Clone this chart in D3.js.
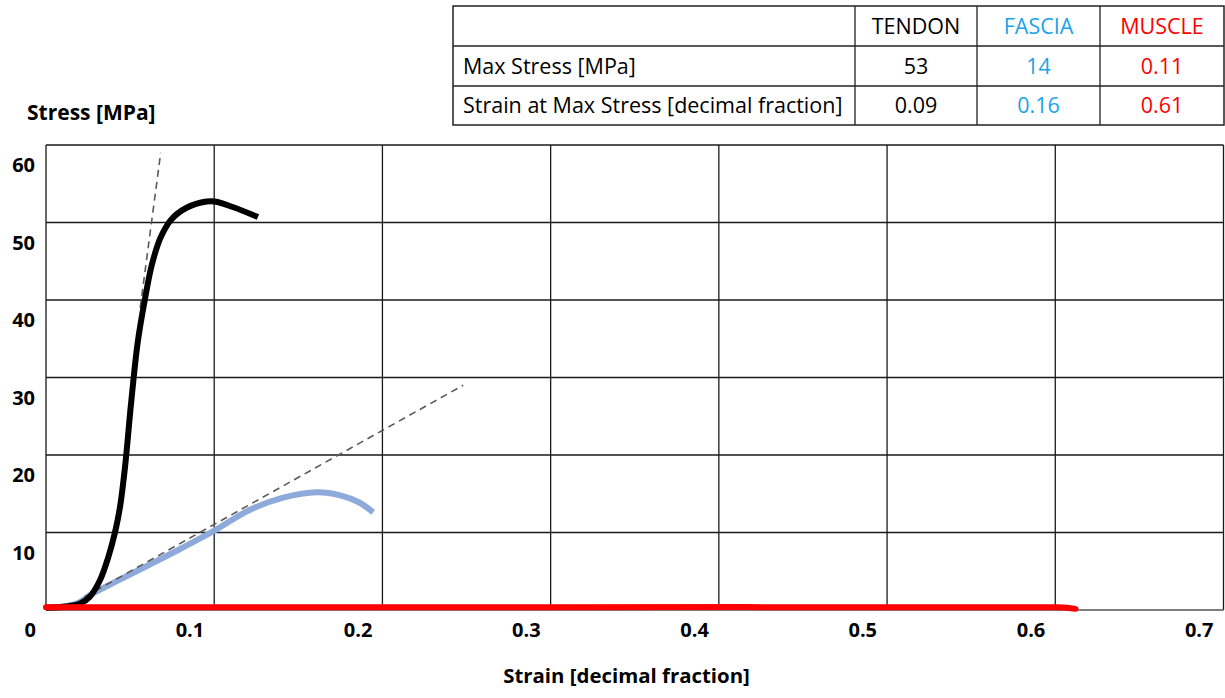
<!DOCTYPE html>
<html><head><meta charset="utf-8">
<script src="https://cdn.jsdelivr.net/npm/d3@7"></script>
<style>body{margin:0;background:#fff}svg{display:block}</style>
</head><body>
<svg id="c" width="1225" height="698"></svg>
<script>
// ---- data ----
const strainTicks = [0, 0.1, 0.2, 0.3, 0.4, 0.5, 0.6, 0.7];
const stressTicks = [10, 20, 30, 40, 50, 60];
const stressGrid = [0, 10, 20, 30, 40, 50, 60];
const tendon = [[0.000,0.3],[0.012,0.45],[0.020,0.8],[0.026,1.7],[0.032,3.8],[0.037,6.8],[0.041,10.0],[0.044,13.3],[0.047,18.5],[0.0505,26.5],[0.0545,34.5],[0.0588,40.1],[0.063,44.6],[0.068,48.0],[0.0745,50.4],[0.0836,51.9],[0.0955,52.7],[0.1004,52.7],[0.111,52.0],[0.126,50.7]];
const fascia = [[0.000,0.3],[0.012,0.5],[0.020,1.0],[0.026,1.9],[0.040,3.5],[0.062,5.9],[0.080,7.9],[0.099,10.1],[0.121,12.9],[0.141,14.5],[0.161,15.2],[0.175,14.8],[0.186,13.9],[0.1945,12.6]];
const muscle = [[0.000,0.35],[0.300,0.35],[0.600,0.35],[0.607,0.3],[0.612,0.15]];
const tendonTangent = [[0.0560,39.0],[0.0682,59.0]];
const fasciaTangent = [[0.023,1.7],[0.248,29.0]];
const tableHeader = ["", "TENDON", "FASCIA", "MUSCLE"];
const tableRowLabels = ["Max Stress [MPa]", "Strain at Max Stress [decimal fraction]"];
const tableTendon = ["53", "0.09"];
const tableFascia = ["14", "0.16"];
const tableMuscle = ["0.11", "0.61"];
const tableColors = ["#000000", "#000000", "#1aa3e8", "#ff0000"];

// ---- layout ----
const svg = d3.select("#c");
const font = "'Open Sans', 'Noto Sans', sans-serif";
const x = d3.scaleLinear().domain([0, 0.7]).range([46, 1223.5]);
const y = d3.scaleLinear().domain([0, 60]).range([610, 145]);

// grid
const g = svg.append("g");
g.selectAll("line.v").data(strainTicks).join("line")
  .attr("x1", d => x(d)).attr("x2", d => x(d)).attr("y1", y(0)).attr("y2", y(60))
  .attr("stroke", "#1a1a1a").attr("stroke-width", 1.3);
g.selectAll("line.h").data(stressGrid).join("line")
  .attr("x1", x(0)).attr("x2", x(0.7)).attr("y1", d => y(d)).attr("y2", d => y(d))
  .attr("stroke", d => d === 0 ? "#555" : "#1a1a1a").attr("stroke-width", 1.3);

// tick labels (offset as in the reference)
svg.append("g").selectAll("text").data(strainTicks).join("text")
  .attr("x", d => x(d) - 10).attr("y", 637)
  .attr("text-anchor", "end").attr("font-family", font).attr("font-weight", 700)
  .attr("font-size", 20).attr("fill", "#000").text(d => d === 0 ? "0" : d3.format(".1f")(d));
svg.append("g").selectAll("text").data(stressTicks).join("text")
  .attr("x", 35).attr("y", d => y(d) + 27)
  .attr("text-anchor", "end").attr("font-family", font).attr("font-weight", 700)
  .attr("font-size", 20).attr("fill", "#000").text(d => d);

// axis titles
svg.append("text").attr("x", 27).attr("y", 120).attr("font-family", font).attr("font-weight", 700)
  .attr("font-size", 21).text("Stress [MPa]");
svg.append("text").attr("x", 626.5).attr("y", 683).attr("text-anchor", "middle").attr("font-family", font)
  .attr("font-weight", 700).attr("font-size", 20.4).text("Strain [decimal fraction]");

// curves
const line = d3.line().x(d => x(d[0])).y(d => y(d[1])).curve(d3.curveCatmullRom.alpha(0.5));
const straight = d3.line().x(d => x(d[0])).y(d => y(d[1]));
const dash = {stroke: "#5a5a5a", w: 1.6, da: "7,5"};

svg.append("path").datum(tendonTangent).attr("d", straight).attr("fill", "none")
  .attr("stroke", dash.stroke).attr("stroke-width", dash.w).attr("stroke-dasharray", dash.da);
svg.append("path").datum(fascia).attr("d", line).attr("fill", "none")
  .attr("stroke", "#8eaadb").attr("stroke-width", 6).attr("stroke-linecap", "butt");
svg.append("path").datum(fasciaTangent).attr("d", straight).attr("fill", "none")
  .attr("stroke", dash.stroke).attr("stroke-width", dash.w).attr("stroke-dasharray", dash.da);
svg.append("path").datum(tendon).attr("d", line).attr("fill", "none")
  .attr("stroke", "#000").attr("stroke-width", 6).attr("stroke-linecap", "butt");
svg.append("path").datum(muscle).attr("d", line).attr("fill", "none")
  .attr("stroke", "#ff0000").attr("stroke-width", 6).attr("stroke-linecap", "round");

// table
const colX = [453, 855, 977, 1100, 1224];
const rowY = [6, 46, 86, 125];
const t = svg.append("g");
t.append("rect").attr("x", colX[0]).attr("y", rowY[0]).attr("width", colX[4] - colX[0]).attr("height", rowY[3] - rowY[0])
  .attr("fill", "#fff").attr("stroke", "#222").attr("stroke-width", 1.5);
t.selectAll("line.c").data(colX.slice(1, 4)).join("line")
  .attr("x1", d => d).attr("x2", d => d).attr("y1", rowY[0]).attr("y2", rowY[3])
  .attr("stroke", "#222").attr("stroke-width", 1.3);
t.selectAll("line.r").data(rowY.slice(1, 3)).join("line")
  .attr("x1", colX[0]).attr("x2", colX[4]).attr("y1", d => d).attr("y2", d => d)
  .attr("stroke", "#222").attr("stroke-width", 1.3);
const cells = [];
tableHeader.forEach((h, i) => cells.push({r: 0, c: i, text: h}));
tableRowLabels.forEach((lab, j) => {
  cells.push({r: j + 1, c: 0, text: lab});
  cells.push({r: j + 1, c: 1, text: tableTendon[j]});
  cells.push({r: j + 1, c: 2, text: tableFascia[j]});
  cells.push({r: j + 1, c: 3, text: tableMuscle[j]});
});
t.selectAll("text").data(cells.filter(d => d.text)).join("text")
  .attr("x", d => d.c === 0 ? colX[0] + 10 : (colX[d.c] + colX[d.c + 1]) / 2)
  .attr("y", d => (rowY[d.r] + rowY[d.r + 1]) / 2 + 7.5)
  .attr("text-anchor", d => d.c === 0 ? "start" : "middle")
  .attr("font-family", font).attr("font-size", 21.5)
  .attr("fill", d => tableColors[d.c]).text(d => d.text);
</script>
</body></html>
